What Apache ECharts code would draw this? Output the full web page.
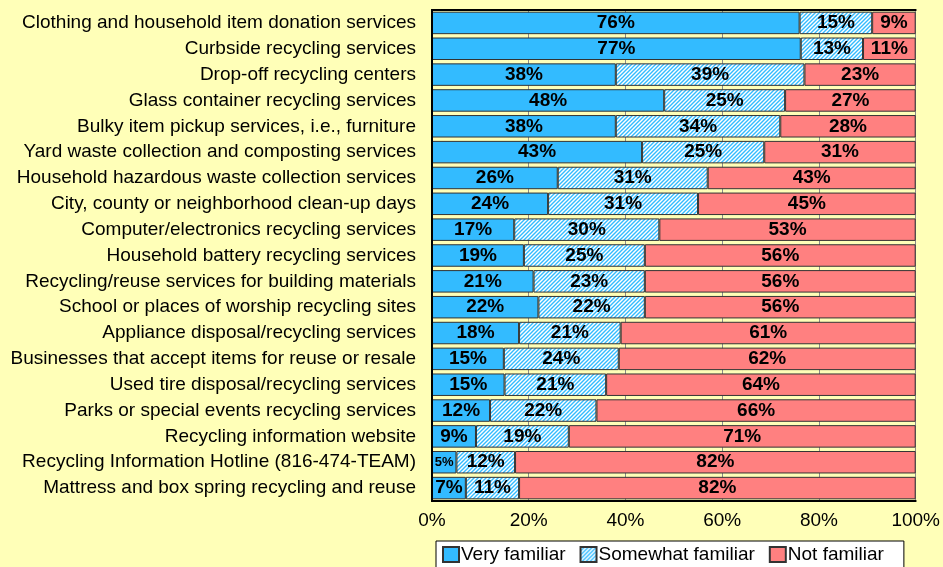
<!DOCTYPE html>
<html lang="en">
<head>
    <meta charset="UTF-8">
    <title>Familiarity with recycling services</title>
    <script src="https://cdn.jsdelivr.net/npm/echarts@6/dist/echarts.min.js"></script>
    <style>
        html, body { margin: 0; padding: 0; background: #FFFFB8; }
    </style>
</head>
<body>
<div style="width:943px;height:567px" id="chart"></div>
<script>
    // services, top to bottom
    var services = [
        'Clothing and household item donation services',
        'Curbside recycling services',
        'Drop-off recycling centers',
        'Glass container recycling services',
        'Bulky item pickup services, i.e., furniture',
        'Yard waste collection and composting services',
        'Household hazardous waste collection services',
        'City, county or neighborhood clean-up days',
        'Computer/electronics recycling services',
        'Household battery recycling services',
        'Recycling/reuse services for building materials',
        'School or places of worship recycling sites',
        'Appliance disposal/recycling services',
        'Businesses that accept items for reuse or resale',
        'Used tire disposal/recycling services',
        'Parks or special events recycling services',
        'Recycling information website',
        'Recycling Information Hotline (816-474-TEAM)',
        'Mattress and box spring recycling and reuse'
    ];
    var veryFamiliar = [76, 77, 38, 48, 38, 43, 26, 24, 17, 19, 21, 22, 18, 15, 15, 12, 9, 5, 7];
    var somewhatFamiliar = [15, 13, 39, 25, 34, 25, 31, 31, 30, 25, 23, 22, 21, 24, 21, 22, 19, 12, 11];
    var notFamiliar = [9, 11, 23, 27, 28, 31, 43, 45, 53, 56, 56, 56, 61, 62, 64, 66, 71, 82, 82];
    var xTicks = [0, 20, 40, 60, 80, 100];

    // diagonal hatch for "Somewhat familiar"
    var hatch = document.createElement('canvas');
    hatch.width = 4;
    hatch.height = 4;
    var ctx = hatch.getContext('2d');
    ctx.fillStyle = '#ffffff';
    ctx.fillRect(0, 0, 4, 4);
    ctx.strokeStyle = '#33BBFF';
    ctx.lineWidth = 1.4;
    ctx.beginPath();
    ctx.moveTo(-1, 5); ctx.lineTo(5, -1);
    ctx.moveTo(-1, 1); ctx.lineTo(1, -1);
    ctx.moveTo(3, 5); ctx.lineTo(5, 3);
    ctx.stroke();

    // 100% stacked: bar length is the row share, label keeps the printed value
    function toShares(arr) {
        var out = [];
        for (var i = 0; i < arr.length; i++) {
            var total = veryFamiliar[i] + somewhatFamiliar[i] + notFamiliar[i];
            var item = {value: arr[i] / total * 100, raw: arr[i]};
            if (arr[i] < 6) {
                item.label = {fontSize: 13};
            }
            out.push(item);
        }
        return out;
    }

    var labelStyle = {
        show: true,
        position: 'inside',
        formatter: function (p) { return p.data.raw + '%'; },
        color: '#000',
        fontWeight: 'bold',
        fontSize: 19,
        fontFamily: 'Liberation Sans'
    };

    var myChart = echarts.init(document.getElementById('chart'));
    var option = {
        backgroundColor: '#FFFFB8',
        textStyle: {fontFamily: 'Liberation Sans'},
        animation: false,
        legend: {
            bottom: -3,
            left: 436,
            padding: [4, 20, 6, 6],
            backgroundColor: '#ffffff',
            borderColor: '#000',
            borderWidth: 1,
            borderRadius: 0,
            itemWidth: 16,
            itemHeight: 15,
            itemGap: 14,
            icon: 'rect',
            textStyle: {fontSize: 19, color: '#000', padding: [0, 0, 0, -3]},
            data: ['Very familiar', 'Somewhat familiar', 'Not familiar']
        },
        grid: {
            left: 432,
            right: 25,
            top: 10,
            bottom: 66,
            containLabel: false
        },
        xAxis: [{
            type: 'value',
            min: 0,
            max: 100,
            interval: 20,
            position: 'bottom',
            axisLine: {show: true, lineStyle: {color: '#000', width: 2}},
            axisTick: {show: false},
            axisLabel: {
                fontSize: 19,
                color: '#000',
                margin: 10,
                formatter: function (v) { return xTicks.indexOf(v) >= 0 ? v + '%' : ''; }
            },
            splitLine: {show: true, lineStyle: {color: '#8a8a8a', width: 1}}
        }, {
            type: 'value',
            min: 0,
            max: 100,
            position: 'top',
            z: 10,
            axisLine: {show: true, lineStyle: {color: '#000', width: 2}},
            axisTick: {show: false},
            axisLabel: {show: false},
            splitLine: {show: false}
        }],
        yAxis: [{
            type: 'category',
            inverse: true,
            data: services,
            z: 10,
            axisLine: {show: true, lineStyle: {color: '#000', width: 2}},
            axisTick: {show: false},
            axisLabel: {fontSize: 19, color: '#000', margin: 16, interval: 0}
        }, {
            type: 'category',
            inverse: true,
            data: services,
            position: 'right',
            z: 10,
            axisLine: {show: true, lineStyle: {color: '#000', width: 2}},
            axisTick: {show: false},
            axisLabel: {show: false}
        }],
        series: [
            {
                name: 'Very familiar',
                type: 'bar',
                stack: 'total',
                barCategoryGap: '13%',
                itemStyle: {color: '#33BBFF', borderColor: '#333', borderWidth: 1},
                label: labelStyle,
                data: toShares(veryFamiliar)
            },
            {
                name: 'Somewhat familiar',
                type: 'bar',
                stack: 'total',
                itemStyle: {color: {image: hatch, repeat: 'repeat'}, borderColor: '#333', borderWidth: 1},
                label: labelStyle,
                data: toShares(somewhatFamiliar)
            },
            {
                name: 'Not familiar',
                type: 'bar',
                stack: 'total',
                itemStyle: {color: '#FF8080', borderColor: '#333', borderWidth: 1},
                label: labelStyle,
                data: toShares(notFamiliar)
            }
        ]
    };
    myChart.setOption(option);
</script>
</body>
</html>
